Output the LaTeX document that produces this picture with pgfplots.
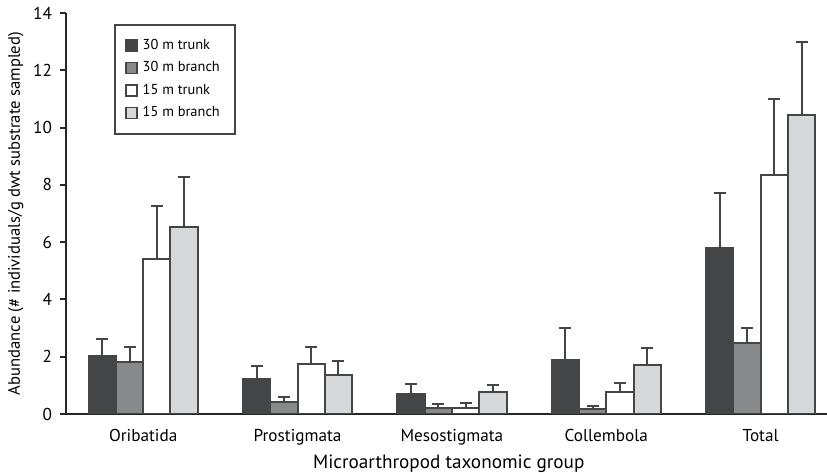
\documentclass[border=0pt]{standalone}
\usepackage{pgfplots}
\pgfplotsset{compat=1.18}
\usepackage{fontspec}
\setmainfont{PT Sans}
\definecolor{cdark}{HTML}{444547}
\definecolor{cmed}{HTML}{88898B}
\definecolor{clight}{HTML}{D7D8DA}
\definecolor{cedge}{HTML}{444547}
\begin{document}
\begin{tikzpicture}
\begin{axis}[
  name=ax,
  scale only axis,
  width=380.5pt, height=200.5pt,
  xmin=-0.5, xmax=4.43,
  ymin=0, ymax=14,
  ytick={0,2,...,14},
  xtick={0,1,2,3,4},
  xticklabels={Oribatida,Prostigmata,Mesostigmata,Collembola,Total},
  x tick style={draw=none},
  extra x ticks={0.5,1.5,2.5,3.5},
  extra x tick labels={},
  extra x tick style={tick align=inside, major tick length=3pt, tick style={draw=cedge, line width=1pt}},
  axis x line=bottom, axis y line=left,
  axis line style={-, line width=1pt, draw=black!85},
  y tick style={line width=1pt, draw=black!85},
  tick align=outside,
  major tick length=3pt,
  ylabel={Abundance (\# individuals/g dwt substrate sampled)},
  xlabel={Microarthropod taxonomic group},
  ylabel style={font=\fontsize{8.3}{9}\selectfont, at={(axis description cs:-0.066,0.5)}, anchor=center},
  xlabel style={font=\fontsize{9.6}{10}\selectfont, at={(axis description cs:0.503,-0.085)}, anchor=north},
  tick label style={font=\fontsize{8.6}{9}\selectfont},
  /pgf/number format/assume math mode=true,
  xticklabel style={yshift=-1pt},
  yticklabel style={xshift=-0.5pt},
  ybar=0pt,
  bar width=13.65pt,
  enlarge x limits=false,
  legend style={at={(axis description cs:0.063,0.9725)}, anchor=north west,
    draw=cedge, line width=1pt, font=\fontsize{7.2}{8}\selectfont,
    row sep=0.6pt, inner xsep=5pt, inner ysep=5pt, legend cell align=left,
    nodes={inner xsep=2.5pt}},
  legend image code/.code={\draw[#1, line width=0.8pt] (0pt,-2.8pt) rectangle (5.6pt,2.8pt);},
  error bars/y dir=plus,
  error bars/y explicit,
  error bars/error bar style={line width=1pt, draw=cedge},
  error bars/error mark options={rotate=90, mark size=3pt, line width=1pt, draw=cedge},
  every axis plot/.append style={draw=cedge, line width=1pt},
]
\addplot[fill=cdark] coordinates {
  (0,2.04) +- (0,0.58)
  (1,1.23) +- (0,0.45)
  (2,0.69) +- (0,0.35)
  (3,1.89) +- (0,1.10)
  (4,5.79) +- (0,1.92)
};
\addlegendentry{30 m trunk}
\addplot[fill=cmed] coordinates {
  (0,1.83) +- (0,0.52)
  (1,0.42) +- (0,0.17)
  (2,0.20) +- (0,0.14)
  (3,0.16) +- (0,0.11)
  (4,2.49) +- (0,0.50)
};
\addlegendentry{30 m branch}
\addplot[fill=white] coordinates {
  (0,5.40) +- (0,1.86)
  (1,1.74) +- (0,0.61)
  (2,0.21) +- (0,0.18)
  (3,0.77) +- (0,0.32)
  (4,8.36) +- (0,2.64)
};
\addlegendentry{15 m trunk}
\addplot[fill=clight] coordinates {
  (0,6.54) +- (0,1.75)
  (1,1.37) +- (0,0.49)
  (2,0.77) +- (0,0.24)
  (3,1.70) +- (0,0.60)
  (4,10.45) +- (0,2.53)
};
\addlegendentry{15 m branch}
\end{axis}
\pgfresetboundingbox
\path[use as bounding box] ([xshift=-33pt,yshift=-29.5pt]ax.south west) rectangle ([yshift=6.5pt]ax.north east);
\end{tikzpicture}
\end{document}
